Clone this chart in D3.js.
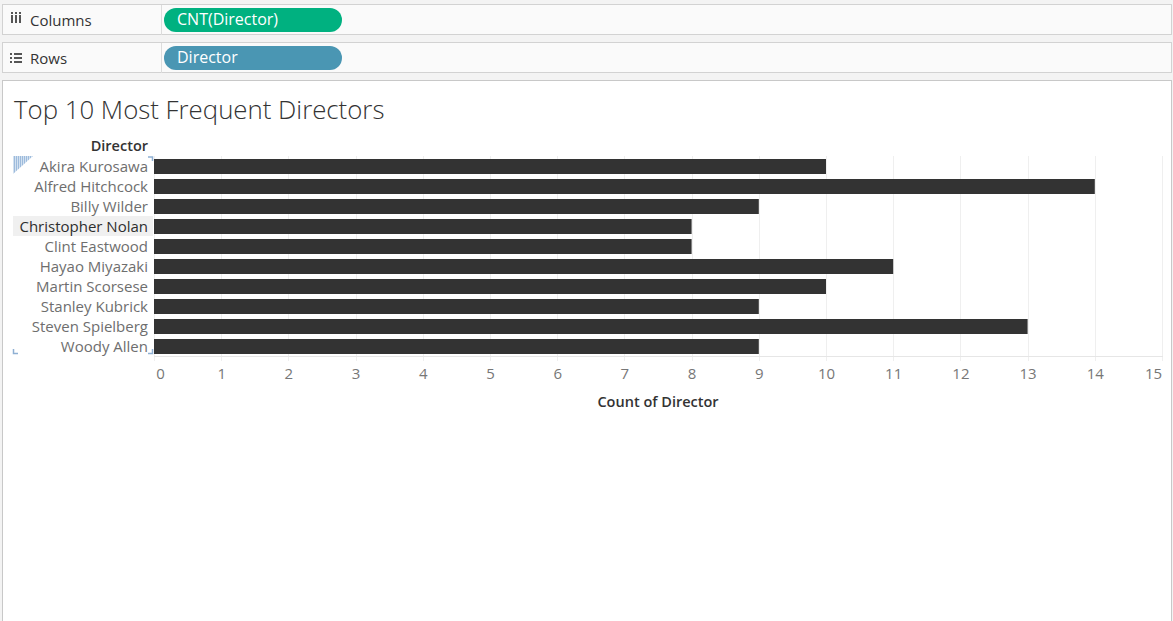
<!DOCTYPE html>
<html><head><meta charset="utf-8">
<script src="https://cdn.jsdelivr.net/npm/d3@7"></script>
<style>
html,body{margin:0;padding:0;background:#f3f3f3;overflow:hidden;}
svg{display:block;}
</style></head>
<body>
<script>
const directors = ["Akira Kurosawa","Alfred Hitchcock","Billy Wilder","Christopher Nolan","Clint Eastwood","Hayao Miyazaki","Martin Scorsese","Stanley Kubrick","Steven Spielberg","Woody Allen"];
const counts = [10,14,9,8,8,11,10,9,13,9];
const xTicks = [0,1,2,3,4,5,6,7,8,9,10,11,12,13,14,15];
const title = "Top 10 Most Frequent Directors";
const columnsPill = "CNT(Director)";
const rowsPill = "Director";
const xAxisTitle = "Count of Director";
const rowHeader = "Director";

const W = 1173, H = 621;
const FONT = "'Open Sans', 'Noto Sans', sans-serif";
const svg = d3.select("body").append("svg").attr("width", W).attr("height", H);

svg.append("rect").attr("width", W).attr("height", H).attr("fill", "#f3f3f3");

function shelf(y, label, pill, color, icon) {
  const g = svg.append("g");
  g.append("rect").attr("x", 2.5).attr("y", y + 0.5).attr("width", 1169).attr("height", 30)
    .attr("fill", "#fafafa").attr("stroke", "#d2d2d2");
  g.append("line").attr("x1", 161.5).attr("x2", 161.5).attr("y1", y + 1).attr("y2", y + 31)
    .attr("stroke", "#dcdcdc");
  if (icon === "cols") {
    [11, 15, 19].forEach(x => {
      g.append("rect").attr("x", x).attr("y", y + 11).attr("width", 2).attr("height", 8).attr("fill", "#555");
      g.append("rect").attr("x", x).attr("y", y + 8).attr("width", 2).attr("height", 2).attr("fill", "#555");
    });
  } else {
    [0, 4, 8].forEach(d => {
      g.append("rect").attr("x", 10).attr("y", y + 11 + d).attr("width", 2).attr("height", 2).attr("fill", "#555");
      g.append("rect").attr("x", 14).attr("y", y + 11 + d).attr("width", 8).attr("height", 2).attr("fill", "#555");
    });
  }
  g.append("text").attr("x", 30).attr("y", y + 21.5).text(label)
    .attr("font-family", FONT).attr("font-size", 15).attr("fill", "#333");
  g.append("rect").attr("x", 164).attr("y", y + 4).attr("width", 178).attr("height", 24)
    .attr("rx", 12).attr("fill", color);
  g.append("text").attr("x", 177).attr("y", y + 21).text(pill)
    .attr("font-family", FONT).attr("font-size", 16).attr("fill", "#fff");
}
shelf(4, "Columns", columnsPill, "#00b180", "cols");
shelf(42, "Rows", rowsPill, "#4a96b3", "rows");

svg.append("rect").attr("x", 2.5).attr("y", 80.5).attr("width", 1169).attr("height", 560)
  .attr("fill", "#fff").attr("stroke", "#c8c8c8");

svg.append("text").attr("x", 14).attr("y", 119).text(title)
  .attr("font-family", FONT).attr("font-size", 25.8).attr("font-weight", 300).attr("fill", "#333");

const x = d3.scaleLinear().domain([0, 15]).range([154, 1162]);
const y = d3.scaleBand().domain(directors).range([156, 356]).paddingInner(0.25).paddingOuter(0.125);

svg.append("g").selectAll("line").data(xTicks).join("line")
  .attr("x1", d => Math.round(x(d)) + 0.5).attr("x2", d => Math.round(x(d)) + 0.5)
  .attr("y1", 156).attr("y2", 361).attr("stroke", "#efefef");
svg.append("line").attr("x1", 154).attr("x2", 1163).attr("y1", 356.5).attr("y2", 356.5).attr("stroke", "#e6e6e6");

svg.append("rect").attr("x", 13).attr("y", 216).attr("width", 140).attr("height", 20).attr("fill", "#f0f0f0");

svg.append("g").selectAll("rect").data(directors).join("rect")
  .attr("x", x(0)).attr("y", d => y(d) + 0.5)
  .attr("width", (d, i) => x(counts[i]) - x(0)).attr("height", y.bandwidth())
  .attr("fill", "#333333");

const yAxis = d3.axisLeft(y).tickSize(0).tickPadding(0);
const yg = svg.append("g").attr("transform", "translate(148,1)").call(yAxis);
yg.select(".domain").remove();
yg.selectAll("text").attr("font-family", FONT).attr("font-size", 15)
  .attr("fill", d => d === "Christopher Nolan" ? "#2e2e2e" : "#6e6e6e").attr("dy", "0.35em");

svg.append("text").attr("x", 148).attr("y", 151).attr("text-anchor", "end").text(rowHeader)
  .attr("font-family", FONT).attr("font-size", 14.5).attr("font-weight", 600).attr("fill", "#333");

const xAxis = d3.axisBottom(x).tickValues(xTicks).tickSize(0).tickPadding(0);
const xg = svg.append("g").attr("transform", "translate(0,374)").call(xAxis);
xg.select(".domain").remove();
xg.selectAll("text").attr("font-family", FONT).attr("font-size", 15).attr("fill", "#777")
  .attr("dy", "0.35em")
  .attr("dx", d => d === 0 ? 6 : (d === 15 ? -9 : 0));

svg.append("text").attr("x", 658).attr("y", 407).attr("text-anchor", "middle").text(xAxisTitle)
  .attr("font-family", FONT).attr("font-size", 14.5).attr("font-weight", 600).attr("fill", "#333");

const defs = svg.append("defs");
const pat = defs.append("pattern").attr("id", "stripes").attr("patternUnits", "userSpaceOnUse")
  .attr("width", 2).attr("height", 4);
pat.append("rect").attr("width", 1).attr("height", 4).attr("fill", "#9dbbdc");
pat.append("rect").attr("x", 1).attr("width", 1).attr("height", 4).attr("fill", "#d3e1f0");
svg.append("path").attr("d", "M13,156 L33,156 L13,174 Z").attr("fill", "url(#stripes)");

const br = svg.append("g").attr("stroke", "#8fb0d3").attr("stroke-width", 1.5).attr("fill", "none");
br.append("path").attr("d", "M148,157 L152.5,157 L152.5,161");
br.append("path").attr("d", "M13.5,349 L13.5,353.5 L18,353.5");
br.append("path").attr("d", "M148,353.5 L152.5,353.5 L152.5,349");
</script>
</body></html>
